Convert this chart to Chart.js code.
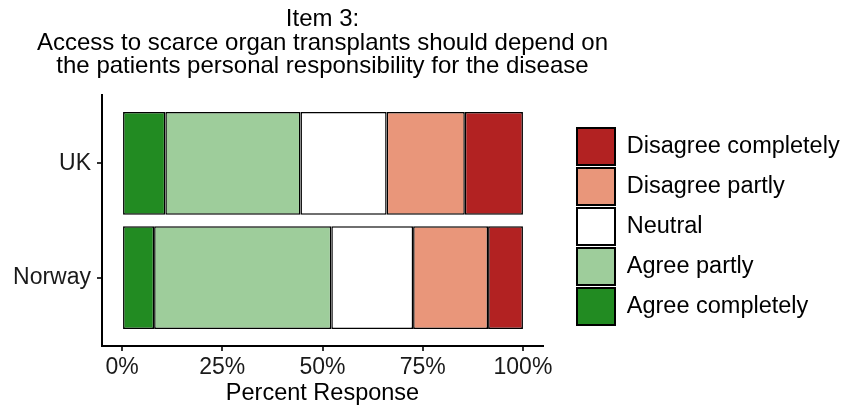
<!DOCTYPE html>
<html>
<head>
<meta charset="utf-8">
<script src="https://cdn.jsdelivr.net/npm/chart.js@4.4.1/dist/chart.umd.min.js"></script>
<style>
  body { margin: 0; background: #fff; }
  #wrap { width: 862px; height: 411px; }
</style>
</head>
<body>
<div id="wrap"><canvas id="likertChart"></canvas></div>
<script>
// values, percent of respondents
const countries = ["Norway", "UK"];   // bottom to top
const responses = ["Agree completely", "Agree partly", "Neutral", "Disagree partly", "Disagree completely"];
const norwayPct = [8.0, 44.2, 20.4, 18.7, 8.7];
const ukPct = [10.8, 33.7, 21.5, 19.5, 14.5];
const xTicks = [0, 25, 50, 75, 100];
const titleLines = [
  "Item 3:",
  "Access to scarce organ transplants should depend on",
  "the patients personal responsibility for the disease"
];

const colors = ["#228b22", "#9ecd9b", "#ffffff", "#e9967a", "#b22222"];
const FONT = "'Liberation Sans', Arial, sans-serif";

const datasets = responses.map((r, i) => ({
  label: r,
  data: [
    { x: norwayPct[i], y: 1 },
    { x: ukPct[i], y: 2 }
  ],
  backgroundColor: colors[i],
  borderColor: "#000",
  borderWidth: 1.5,
  borderSkipped: false,
  categoryPercentage: 0.9,
  barPercentage: 1
}));

// ggplot-ish layout: gap before the legend, title centred on the panel but allowed to overhang it
const layoutTweaks = {
  id: "layoutTweaks",
  afterLayout(chart) {
    chart.legend.left += 31;
    chart.legend.right = chart.width;   // legend clips to its box
    chart.titleBlock.left -= 150;
    chart.titleBlock.right += 150;
  }
};

new Chart(document.getElementById("likertChart"), {
  type: "bar",
  data: { datasets: datasets },
  plugins: [layoutTweaks],
  options: {
    indexAxis: "y",
    responsive: true,
    maintainAspectRatio: false,
    animation: false,
    layout: { padding: { left: 0, right: 138, top: 0, bottom: 0 } },
    scales: {
      x: {
        type: "linear",
        min: -5,
        max: 105,
        stacked: true,
        afterBuildTicks: s => { s.ticks = xTicks.map(v => ({ value: v })); },
        afterFit: s => { s.height = 65; },
        border: { display: true, color: "#000", width: 2 },
        grid: { drawOnChartArea: false, drawTicks: true, tickLength: 5, color: "#333", lineWidth: 2 },
        ticks: {
          autoSkip: false,
          maxRotation: 0,
          color: "#1a1a1a",
          padding: 3,
          font: { family: FONT, size: 23 },
          callback: v => v + "%"
        },
        title: {
          display: true,
          text: "Percent Response",
          color: "#000",
          font: { family: FONT, size: 23.5 },
          padding: { top: 0, bottom: 3 }
        }
      },
      y: {
        type: "linear",
        min: 0.4,
        max: 2.6,
        stacked: true,
        offset: false,
        afterBuildTicks: s => { s.ticks = countries.map((c, i) => ({ value: i + 1 })); },
        afterFit: s => { s.width = 102; },
        border: { display: true, color: "#000", width: 2 },
        grid: { offset: false, drawOnChartArea: false, drawTicks: true, tickLength: 5, color: "#333", lineWidth: 2 },
        ticks: {
          autoSkip: false,
          color: "#1a1a1a",
          padding: 6,
          font: { family: FONT, size: 23 },
          callback: v => countries[v - 1]
        }
      }
    },
    plugins: {
      tooltip: { enabled: false },
      title: {
        display: true,
        fullSize: false,
        text: titleLines,
        color: "#000",
        font: { family: FONT, size: 24, weight: "normal", lineHeight: 23.7 / 24 },
        padding: { top: 7.5, bottom: 16.4 }
      },
      legend: {
        position: "right",
        fullSize: false,
        reverse: true,
        title: { display: true, text: "", padding: 0, font: { size: 10, lineHeight: 1.2 } },
        labels: {
          boxWidth: 38,
          boxHeight: 37,
          padding: 3,
          color: "#000",
          font: { family: FONT, size: 23.5 },
          generateLabels: chart =>
            Chart.defaults.plugins.legend.labels.generateLabels(chart).map(l => ({ ...l, lineWidth: 2 }))
        }
      }
    }
  }
});
</script>
</body>
</html>
